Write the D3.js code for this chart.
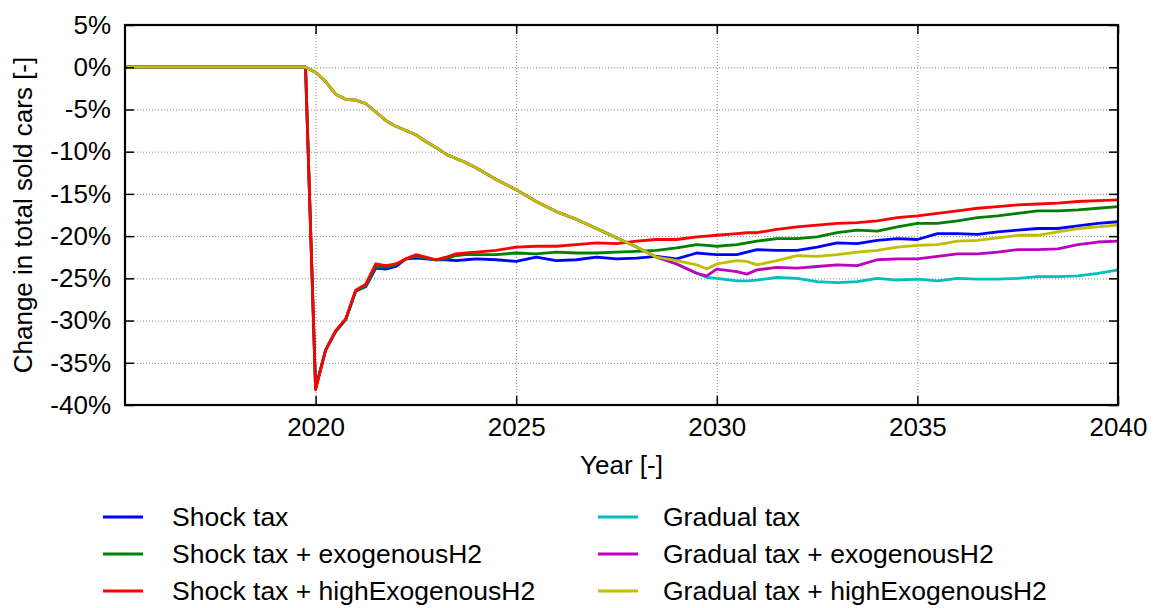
<!DOCTYPE html>
<html>
<head>
<meta charset="utf-8">
<script src="https://cdn.jsdelivr.net/npm/d3@7"></script>
<style>
  body { margin: 0; background: #fff; }
  svg { font-family: "Liberation Sans", Arial, sans-serif; }
</style>
</head>
<body>
<div id="chart"></div>
<script>
// time points (years) shared by every series
var years = [2015.25, 2019.75, 2020, 2020.25, 2020.5, 2020.75, 2021, 2021.25, 2021.5, 2021.75,
  2022, 2022.25, 2022.5, 2022.75, 2023, 2023.25, 2023.5, 2023.75, 2024, 2024.5, 2025, 2025.5,
  2026, 2026.5, 2027, 2027.5, 2028, 2028.5, 2029, 2029.5, 2029.75, 2030, 2030.5, 2030.75,
  2031, 2031.5, 2032, 2032.5, 2033, 2033.5, 2034, 2034.5, 2035, 2035.5, 2036, 2036.5, 2037,
  2037.5, 2038, 2038.5, 2039, 2039.5, 2040];

// change in total sold cars, percent
var shockTax = [0, 0, -38.0, -33.5, -31.3, -29.9, -26.5, -26.0, -23.8, -23.9, -23.6, -22.7, -22.6,
  -22.7, -22.8, -22.8, -22.9, -22.8, -22.7, -22.8, -23.0, -22.5, -22.9, -22.8, -22.5, -22.7, -22.6,
  -22.4, -22.7, -22.0, -22.1, -22.2, -22.2, -21.9, -21.6, -21.7, -21.7, -21.3, -20.8, -20.9, -20.5,
  -20.3, -20.4, -19.7, -19.7, -19.8, -19.5, -19.3, -19.1, -19.1, -18.8, -18.5, -18.3];
var shockExo = [0, 0, -38.0, -33.5, -31.3, -29.9, -26.5, -25.9, -23.6, -23.7, -23.4, -22.7, -22.4,
  -22.6, -22.8, -22.7, -22.3, -22.2, -22.2, -22.2, -22.0, -22.1, -21.9, -22.0, -22.0, -21.9, -21.8,
  -21.7, -21.4, -21.0, -21.1, -21.2, -21.0, -20.8, -20.6, -20.3, -20.3, -20.1, -19.6, -19.3, -19.4,
  -18.9, -18.5, -18.5, -18.2, -17.8, -17.6, -17.3, -17.0, -17.0, -16.9, -16.7, -16.5];
var shockHighExo = [0, 0, -38.2, -33.5, -31.2, -29.8, -26.4, -25.7, -23.3, -23.5, -23.3, -22.7, -22.2,
  -22.5, -22.8, -22.5, -22.1, -22.0, -21.9, -21.7, -21.3, -21.2, -21.2, -21.0, -20.8, -20.9, -20.6,
  -20.4, -20.4, -20.1, -20.0, -19.9, -19.7, -19.6, -19.6, -19.2, -18.9, -18.7, -18.5, -18.4, -18.2,
  -17.8, -17.6, -17.3, -17.0, -16.7, -16.5, -16.3, -16.2, -16.1, -15.9, -15.8, -15.7];
// the three gradual runs are identical up to 2028.5
var gradualStart = [0, 0, -0.6, -1.7, -3.2, -3.8, -3.9, -4.3, -5.3, -6.3, -7.0, -7.5, -8.0, -8.8,
  -9.5, -10.3, -10.8, -11.3, -11.9, -13.3, -14.5, -15.9, -17.1, -18.0, -19.1, -20.2, -21.3, -22.5];
var gradualTax = gradualStart.concat([-23.3, -24.4, -24.9, -25.0, -25.3, -25.3, -25.2, -24.9,
  -25.0, -25.4, -25.5, -25.4, -25.0, -25.2, -25.1, -25.3, -25.0, -25.1, -25.1, -25.0, -24.8, -24.8,
  -24.7, -24.4, -24.0]);
var gradualExo = gradualStart.concat([-23.3, -24.4, -24.7, -23.9, -24.2, -24.5, -24.0, -23.7,
  -23.8, -23.6, -23.4, -23.5, -22.8, -22.7, -22.7, -22.4, -22.1, -22.1, -21.9, -21.6, -21.6, -21.5,
  -21.0, -20.7, -20.6]);
var gradualHighExo = gradualStart.concat([-22.9, -23.4, -23.9, -23.3, -22.9, -23.0, -23.4, -22.9,
  -22.3, -22.4, -22.2, -21.9, -21.7, -21.3, -21.1, -21.0, -20.6, -20.5, -20.2, -19.9, -19.9, -19.5,
  -19.1, -18.9, -18.7]);

var seriesNames = ["Shock tax", "Shock tax + exogenousH2", "Shock tax + highExogenousH2",
  "Gradual tax", "Gradual tax + exogenousH2", "Gradual tax + highExogenousH2"];
var seriesValues = [shockTax, shockExo, shockHighExo, gradualTax, gradualExo, gradualHighExo];
var seriesColors = ["#0000ff", "#008000", "#ff0000", "#00bfbf", "#bf00bf", "#bfbf00"];

var xTicks = [2020, 2025, 2030, 2035, 2040];
var yTicks = [5, 0, -5, -10, -15, -20, -25, -30, -35, -40];

var width = 1157,
  height = 608,
  margin = { top: 25, right: 39, bottom: 203, left: 125 };
var w = width - margin.left - margin.right,
  h = height - margin.top - margin.bottom;

var svg = d3.select("#chart")
  .append("svg")
  .attr("width", width)
  .attr("height", height);

var g = svg.append("g")
  .attr("transform", `translate(${margin.left},${margin.top})`);

var x = d3.scaleLinear().domain([2015.25, 2040]).range([0, w]);
var y = d3.scaleLinear().domain([-40, 5]).range([h, 0]);

// dotted grid
g.append("g")
  .attr("class", "grid")
  .call(d3.axisLeft(y).tickValues(yTicks).tickSize(-w).tickFormat(""));
g.append("g")
  .attr("class", "grid")
  .attr("transform", `translate(0,${h})`)
  .call(d3.axisBottom(x).tickValues(xTicks).tickSize(-h).tickFormat(""));
g.selectAll(".grid .domain").remove();
g.selectAll(".grid line")
  .attr("stroke", "#8c8c8c")
  .attr("stroke-width", 1)
  .attr("stroke-dasharray", "1,2");

// data lines
var line = d3.line()
  .x((d, i) => x(years[i]))
  .y((d) => y(d));

seriesValues.forEach(function (vals, k) {
  g.append("path")
    .datum(vals)
    .attr("fill", "none")
    .attr("stroke", seriesColors[k])
    .attr("stroke-width", 2.8)
    .attr("stroke-linejoin", "round")
    .attr("d", line);
});

// axes, ticks point inwards (mirrored on top and right)
g.append("g")
  .call(d3.axisLeft(y).tickValues(yTicks).tickSize(-9).tickPadding(14)
    .tickFormat((d) => d + "%"));
g.append("g")
  .attr("transform", `translate(${w},0)`)
  .call(d3.axisRight(y).tickValues(yTicks).tickSize(-9).tickFormat(""));
g.append("g")
  .attr("transform", `translate(0,${h})`)
  .call(d3.axisBottom(x).tickValues(xTicks).tickSize(-9).tickPadding(13)
    .tickFormat(d3.format("d")));
g.append("g")
  .call(d3.axisTop(x).tickValues(xTicks).tickSize(-9).tickFormat(""));

g.selectAll(".domain").remove();
g.selectAll(".tick line").filter(function () {
  return !this.parentNode.parentNode.classList.contains("grid");
}).attr("stroke", "#000").attr("stroke-width", 1.5);
g.selectAll(".tick text")
  .attr("font-size", 26)
  .attr("font-family", "Liberation Sans, Arial, sans-serif")
  .attr("fill", "#000");

// frame
g.append("rect")
  .attr("width", w)
  .attr("height", h)
  .attr("fill", "none")
  .attr("stroke", "#000")
  .attr("stroke-width", 2.2);

// axis titles
svg.append("text")
  .attr("transform", `translate(32,${margin.top + h / 2}) rotate(-90)`)
  .attr("text-anchor", "middle")
  .attr("font-size", 26)
  .text("Change in total sold cars [-]");
svg.append("text")
  .attr("x", margin.left + w / 2)
  .attr("y", 474)
  .attr("text-anchor", "middle")
  .attr("font-size", 26)
  .text("Year [-]");

// legend, two columns of three
var legend = svg.append("g");
seriesNames.forEach(function (name, k) {
  var col = Math.floor(k / 3),
    row = k % 3;
  var lx = col === 0 ? 103 : 598,
    ly = 517 + row * 37;
  legend.append("line")
    .attr("x1", lx).attr("x2", lx + 40)
    .attr("y1", ly).attr("y2", ly)
    .attr("stroke", seriesColors[k])
    .attr("stroke-width", 2.8);
  legend.append("text")
    .attr("x", lx + (col === 0 ? 69 : 65))
    .attr("y", ly)
    .attr("dy", "0.35em")
    .attr("font-size", 26.5)
    .text(name);
});
</script>
</body>
</html>
